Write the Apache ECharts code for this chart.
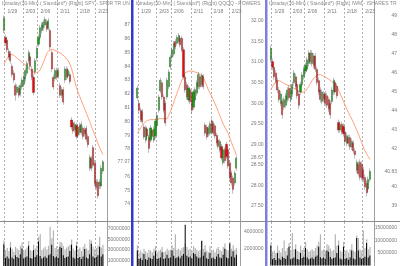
<!DOCTYPE html>
<html><head><meta charset="utf-8">
<script src="https://cdn.jsdelivr.net/npm/echarts@6/dist/echarts.min.js"></script>
<style>html,body{margin:0;padding:0;background:#fff}#c{width:400px;height:266px}</style>
</head><body><div id="c"></div>
<script>
// ---- x-axis date labels (category index where each day-line sits) ----
const dateLabels = ['1/29','2/03','2/06','2/11','2/18','2/23'];
const dateIdx = [1,12,21,33,45,56];

const titleSPY = 'Intraday(30-Min) ( Standard*) (Right) SPY - SPDR TR UNIT';
const titleQQQQ = 'Intraday(30-Min) ( Standard*) (Right) QQQQ - POWERSHARES';
const titleIWM = 'Intraday(30-Min) ( Standard*) (Right) IWM - ISHARES TR';

// ---- candles: [open, close, low, high] ----
const spyOHLC = [
[86.6,87.5,86.4,87.7],[86.1,85.7,85.5,86.3],[85.9,85.2,85.0,86.1],[85.1,84.7,84.5,85.3],[84.9,84.4,84.2,85.1],
[84.0,83.4,83.2,84.2],[83.5,83.0,82.8,83.7],[82.6,81.9,81.5,82.8],[82.1,82.5,81.9,82.7],[82.4,81.9,81.7,82.6],
[82.0,82.6,81.8,82.8],[82.5,83.0,82.3,83.2],[82.7,83.2,82.5,83.4],[83.1,83.7,82.9,83.9],[83.5,84.2,83.3,84.4],
[84.4,85.0,84.2,85.2],[84.7,84.0,83.8,84.9],[83.8,83.2,83.0,84.0],[83.2,82.1,81.9,83.4],[83.6,84.4,83.4,84.6],
[84.6,85.3,84.4,85.5],[85.6,86.1,85.4,86.3],[86.1,86.8,85.9,87.0],[86.6,87.0,86.4,87.2],[86.8,87.2,86.6,87.4],
[87.0,87.4,86.8,87.6],[87.2,86.7,86.5,87.4],[86.8,87.3,86.6,87.5],[86.6,85.4,85.2,86.8],[85.0,83.8,83.6,85.2],
[83.2,82.5,82.3,83.4],[83.1,83.7,82.9,83.9],[83.7,83.2,83.0,83.9],[83.3,83.7,83.1,83.9],[82.6,81.9,81.7,82.8],
[81.9,82.3,81.7,82.5],[82.3,81.4,81.2,82.5],[83.0,83.8,82.8,84.0],[83.8,83.2,83.0,84.0],[83.3,83.7,83.1,83.9],
[83.4,82.9,82.7,83.6],[80.1,79.6,79.4,80.3],[79.9,79.3,79.1,80.1],[79.4,79.8,79.2,80.0],[79.7,78.9,78.7,79.9],
[79.0,79.6,78.8,79.8],[79.7,79.2,79.0,79.9],[79.2,79.8,79.0,80.0],[79.5,78.9,78.7,79.7],[79.4,79.1,78.9,79.6],
[79.5,78.7,78.5,79.7],[78.9,78.3,78.1,79.1],[76.6,77.4,76.4,77.6],[77.3,76.6,76.4,77.5],[78.1,76.8,76.6,78.3],
[77.0,75.5,75.3,77.2],[75.6,75.2,75.0,75.8],[75.6,74.6,74.4,75.8],[75.3,75.6,75.1,75.8],[75.3,76.6,75.1,76.8],
[76.4,77.07,76.2,77.2]
];
const qqqqOHLC = [
[30.13,30.37,30.07,30.43],[30.0,29.83,29.77,30.06],[29.83,29.6,29.54,29.89],[29.8,29.55,29.49,29.86],[29.42,29.18,29.12,29.48],
[29.1,29.4,29.04,29.46],[29.37,29.2,29.14,29.43],[29.18,28.9,28.79,29.24],[29.1,29.4,29.04,29.46],[29.35,29.19,29.13,29.41],
[29.1,29.37,29.04,29.43],[29.2,29.57,29.14,29.63],[29.45,29.7,29.39,29.76],[29.83,30.15,29.77,30.21],[30.3,30.56,30.24,30.62],
[30.5,30.15,30.09,30.56],[30.15,29.83,29.77,30.21],[30.0,29.52,29.45,30.06],[30.15,30.56,30.09,30.62],[30.4,30.76,30.34,30.82],
[30.88,31.12,30.82,31.18],[31.12,31.3,31.06,31.36],[31.2,31.46,31.14,31.52],[31.5,31.37,31.31,31.56],[31.46,31.6,31.4,31.66],
[31.5,31.65,31.44,31.71],[31.58,31.42,31.36,31.64],[31.58,31.3,31.24,31.64],[31.3,30.64,30.58,31.36],[30.64,30.32,30.26,30.7],
[30.45,30.15,30.09,30.51],[30.08,30.37,30.02,30.43],[30.33,30.04,29.98,30.39],[30.25,29.83,29.75,30.31],[29.9,30.28,29.84,30.34],
[30.08,30.33,30.02,30.39],[30.24,30.5,30.18,30.56],[30.4,30.7,30.34,30.76],[30.65,30.4,30.34,30.71],[30.45,30.68,30.39,30.74],
[30.65,30.4,30.34,30.71],[29.47,29.27,29.21,29.53],[29.42,29.18,29.12,29.48],[29.25,29.4,29.19,29.46],[29.27,29.5,29.21,29.56],
[29.57,29.3,29.24,29.63],[29.5,29.27,29.21,29.56],[29.45,29.2,29.14,29.51],[29.22,29.03,28.97,29.28],[29.1,28.95,28.89,29.16],
[28.86,29.07,28.8,29.13],[28.95,28.67,28.61,29.01],[28.55,28.87,28.49,28.93],[28.87,28.6,28.54,28.93],[29.0,28.7,28.64,29.06],
[28.87,28.47,28.41,28.93],[28.55,28.2,28.14,28.61],[28.3,28.06,28.0,28.36],[28.18,27.9,27.8,28.24],[28.06,28.3,28.0,28.36],
[28.42,28.67,28.36,28.73]
];
const iwmOHLC = [
[46.7,47.3,46.55,47.45],[46.6,46.3,46.15,46.75],[46.3,45.8,45.65,46.45],[46.0,45.6,45.45,46.15],[45.6,45.1,44.95,45.75],
[45.1,44.6,44.45,45.25],[44.4,44.9,44.25,45.05],[44.5,43.8,43.6,44.65],[44.2,44.6,44.05,44.75],[44.3,44.8,44.15,44.95],
[44.6,45.1,44.45,45.25],[45.2,44.7,44.55,45.35],[44.6,45.1,44.45,45.25],[44.9,45.4,44.75,45.55],[45.5,46.0,45.35,46.15],
[45.8,45.3,45.15,45.95],[45.4,44.8,44.65,45.55],[44.9,44.3,44.1,45.05],[45.0,45.4,44.85,45.55],[45.4,45.9,45.25,46.05],
[45.8,46.2,45.65,46.35],[46.1,46.4,45.95,46.55],[46.2,46.7,46.05,46.85],[46.5,47.05,46.35,47.2],[47.05,46.6,46.45,47.2],
[46.5,47.05,46.35,47.2],[46.9,46.4,46.25,47.05],[46.9,46.2,46.05,47.05],[46.2,45.5,45.35,46.35],[45.6,45.0,44.85,45.75],
[45.1,44.6,44.45,45.25],[44.5,45.0,44.35,45.15],[44.9,44.6,44.45,45.05],[44.9,44.4,44.25,45.05],[44.8,44.3,44.15,44.95],
[44.6,44.1,43.95,44.75],[44.4,43.8,43.6,44.55],[44.5,45.1,44.35,45.25],[45.0,45.6,44.85,45.75],[45.5,45.0,44.85,45.65],
[45.3,44.8,44.65,45.45],[43.4,43.0,42.85,43.55],[43.0,43.3,42.85,43.45],[43.3,42.9,42.75,43.45],[43.2,42.8,42.65,43.35],
[42.9,42.4,42.25,43.05],[42.3,42.7,42.15,42.85],[42.6,42.3,42.15,42.75],[42.6,42.1,41.95,42.75],[42.1,42.4,41.95,42.55],
[42.3,41.9,41.75,42.45],[41.9,41.7,41.5,42.05],[40.9,41.3,40.75,41.45],[41.2,40.7,40.55,41.35],[41.3,40.5,40.35,41.45],
[41.2,40.5,40.35,41.35],[40.9,40.4,40.25,41.05],[40.5,40.0,39.85,40.65],[40.2,39.7,39.5,40.35],[39.9,40.4,39.75,40.55],
[40.4,40.83,40.25,40.98]
];

// ---- moving average lines ----
const spyMA = [84.15,84.35,84.55,84.75,84.9,84.9,84.8,84.7,84.6,84.5,84.4,84.3,84.2,84.1,84.0,83.85,83.75,83.65,83.55,83.5,
83.5,83.6,83.75,84.0,84.3,84.6,84.9,85.1,85.2,85.25,85.2,85.15,85.1,85.05,85.0,84.9,84.8,84.7,84.55,84.4,
84.15,83.85,83.4,82.9,82.45,82.1,81.8,81.5,81.2,80.9,80.6,80.3,80.0,79.65,79.35,79.05,78.75,78.4,78.1,77.85,77.6];
const qqqqMA = [29.27,29.33,29.4,29.46,29.51,29.55,29.58,29.59,29.6,29.6,29.6,29.6,29.61,29.62,29.63,29.63,29.62,29.6,29.62,29.7,
29.8,29.9,30.02,30.13,30.24,30.35,30.46,30.56,30.66,30.74,30.77,30.78,30.78,30.78,30.77,30.76,30.75,30.73,30.7,30.67,
30.62,30.53,30.43,30.33,30.25,30.17,30.08,30.0,29.9,29.8,29.7,29.6,29.5,29.42,29.35,29.27,29.16,29.05,28.94,28.85,28.74];
const iwmMA = [45.14,45.28,45.42,45.55,45.62,45.6,45.55,45.5,45.45,45.4,45.37,45.33,45.3,45.25,45.2,45.14,45.08,45.03,45.0,44.97,
44.97,45.05,45.18,45.3,45.45,45.6,45.73,45.83,45.9,45.93,45.92,45.88,45.84,45.8,45.74,45.68,45.62,45.56,45.48,45.4,
45.3,45.1,44.9,44.72,44.5,44.3,44.1,43.92,43.75,43.58,43.4,43.2,43.0,42.8,42.57,42.35,42.1,41.9,41.75,41.6,41.45];

// ---- volumes (millions) ----
const spyVolBlack = [41,15,18,14,35,16,13,20,17,15,22,33,14,16,18,38,15,14,30,17,20,46,19,14,16,18,15,20,22,40,19,16,18,15,36,34,20,15,17,18,28,40,16,14,38,15,17,13,18,32,16,14,22,42,18,15,17,20,36,18,22];
const spyVolGray = [48,30,34,28,45,32,27,36,33,30,38,44,28,31,35,47,30,28,40,33,38,55,60,30,33,36,31,38,74,52,67,34,37,32,45,44,38,31,35,37,40,50,33,29,46,32,35,28,36,42,33,30,50,48,36,32,34,38,55,35,40];
const qqqqVolBlack = [1.8,0.8,0.9,0.7,1.4,0.8,0.7,1.0,0.9,0.8,1.2,1.7,0.8,0.9,1.0,1.6,0.8,0.9,1.3,0.9,1.0,1.8,1.2,0.9,1.0,1.1,0.9,1.2,1.4,4.8,1.2,1.0,1.1,0.9,1.5,1.4,1.1,0.9,1.0,2.9,1.2,1.6,0.9,0.8,1.5,0.9,1.0,0.8,1.1,1.4,1.0,0.9,1.3,2.0,1.0,0.9,2.6,1.1,1.7,1.0,1.3];
const qqqqVolGray = [2.4,1.6,1.8,1.5,2.0,1.7,1.5,1.9,1.8,1.6,2.0,2.3,1.6,1.8,1.9,2.2,1.6,1.7,2.0,1.8,1.9,2.4,2.1,3.7,1.9,2.0,1.8,2.1,2.2,2.6,2.2,1.9,2.0,1.8,2.3,2.1,1.9,1.7,1.9,3.0,2.0,2.4,1.8,1.6,2.3,1.8,1.9,1.6,2.0,2.2,1.9,1.7,2.2,2.6,1.9,1.8,2.8,2.0,2.4,1.9,2.1];
const iwmVolBlack = [8,2.5,3,2.2,5,2.8,2.3,3.5,3,2.6,4,7.5,2.5,2.8,3.2,6.5,2.6,2.4,5,3,3.5,7,3.2,2.5,2.8,3.2,2.6,3.5,4,7.5,3.3,2.8,3.2,2.6,6,5.5,3.4,2.6,3,3.2,5,8,2.8,2.4,7.5,2.6,3,2.3,3.2,6,2.8,2.5,11,6,3.2,2.6,3,3.5,9,3.2,4];
const iwmVolGray = [9,5.5,6,5,8,6,5.2,7,10,5.8,7,9,6,13,6.5,8.5,5.8,5.5,8,6.2,7,9.5,6.5,5.5,6,6.5,5.8,7,8,9.5,12.5,6,6.5,5.8,8.5,8,6.8,5.8,6.2,12.5,8,10,6,5.5,9.5,5.8,6.2,5.2,6.5,8.5,6,5.5,12,11,6.5,5.8,14,7,10.5,6.5,7.5];

// ---- y tick labels ----
const spyTicks = [74,75,76,78,79,80,81,82,83,84,85,86,87];
const qqqqTicks = [27.5,28,28.5,29,29.5,30,30.5,31,31.5,32];
const iwmTicks = [39,40,42,43,44,45,46,47,48,49];
const spyVolTicks = [10,30,50,70];
const qqqqVolTicks = [2,4];
const iwmVolTicks = [5,10,15];

const N_CAT = 63;
const cats = Array.from({length: N_CAT}, (_, i) => String(i));
const FONT = 'Liberation Sans, Arial, sans-serif';
const LBL = '#7a7a7a';

const panels = [
  {off:0, title:titleSPY, ohlc:spyOHLC, ma:spyMA, vb:spyVolBlack, vg:spyVolGray, ticks:spyTicks, vt:spyVolTicks,
   min:72.765, max:88.816, dec:false, vmax:82.7, vh:45.5},
  {off:133.5, title:titleQQQQ, ohlc:qqqqOHLC, ma:qqqqMA, vb:qqqqVolBlack, vg:qqqqVolGray, ticks:qqqqTicks, vt:qqqqVolTicks,
   min:27.135, max:32.511, dec:true, vmax:5.11, vh:46},
  {off:267, title:titleIWM, ohlc:iwmOHLC, ma:iwmMA, vb:iwmVolBlack, vg:iwmVolGray, ticks:iwmTicks, vt:iwmVolTicks,
   min:38.211, max:49.842, dec:false, vmax:17.4, vh:43.5}
];

const grids = [], xAxes = [], yAxes = [], series = [], titles = [];
const isDate = (i) => dateIdx.indexOf(i) >= 0;
panels.forEach((p, k) => {
  const gP = k * 2, gV = k * 2 + 1;
  grids.push({left: p.off + 3, width: 104, top: 0, height: 221});
  grids.push({left: p.off + 3, width: 104, top: 222, height: p.vh});
  titles.push({text: p.title, left: p.off + 2, top: 1, padding: 0,
    textStyle: {fontSize: 5, color: '#8a8a8a', fontWeight: 'normal', fontFamily: FONT, width: 129, overflow: 'truncate', ellipsis: ''}});
  const split = {show: true, interval: (i) => isDate(i), lineStyle: {type: [2, 2], color: '#b0b0b0', width: 1}};
  xAxes.push({gridIndex: gP, type: 'category', data: cats, position: 'top', boundaryGap: true,
    axisLine: {show: false}, axisTick: {show: false}, splitLine: split,
    axisLabel: {inside: true, interval: (i) => isDate(i), formatter: (v, i) => dateLabels[dateIdx.indexOf(i)] || '',
      align: 'left', margin: 9, fontSize: 5, color: LBL, fontFamily: FONT, padding: [0, 0, 0, 2]}});
  xAxes.push({gridIndex: gV, type: 'category', data: cats, boundaryGap: true,
    axisLine: {show: false}, axisTick: {show: false}, axisLabel: {show: false}, splitLine: split});
  const last = p.ohlc[p.ohlc.length - 1][1];
  const fmt = (v) => p.dec ? Number(v).toFixed(2) : (Number.isInteger(v) ? String(v) : Number(v).toFixed(2));
  yAxes.push({gridIndex: gP, type: 'value', position: 'right', min: p.min, max: p.max,
    axisLine: {show: true, lineStyle: {color: '#a0a0a0', width: 1}}, axisTick: {show: false}, splitLine: {show: false},
    axisLabel: {customValues: p.ticks.concat([last]), formatter: fmt, fontSize: 5, color: LBL, fontFamily: FONT, align: 'right', margin: 23}});
  yAxes.push({gridIndex: gV, type: 'value', position: 'right', min: 0, max: p.vmax,
    axisLine: {show: true, lineStyle: {color: '#a0a0a0', width: 1}}, axisTick: {show: false}, splitLine: {show: false},
    axisLabel: {customValues: p.vt, formatter: (v) => String(Math.round(v * 1e6)), fontSize: 5, color: LBL, fontFamily: FONT, align: 'right', margin: 23}});
  series.push({type: 'candlestick', xAxisIndex: gP, yAxisIndex: gP, data: p.ohlc, barWidth: 1.6,
    itemStyle: {color: '#00b000', color0: '#ff0000', borderColor: '#3a3a3a', borderColor0: '#3a3a3a', borderWidth: 0.3,
      shadowBlur: 1.5, shadowColor: 'rgba(0,0,0,0.18)'}});
  series.push({type: 'line', xAxisIndex: gP, yAxisIndex: gP, data: p.ma, symbol: 'none',
    lineStyle: {color: '#ff8a5c', width: 0.8}, z: 1});
  series.push({type: 'bar', xAxisIndex: gV, yAxisIndex: gV, data: p.vg, barWidth: 1.2, itemStyle: {color: '#b4b4b4'}});
  series.push({type: 'bar', xAxisIndex: gV, yAxisIndex: gV, data: p.vb, barWidth: 1.0, barGap: '-100%', itemStyle: {color: '#000'}});
});

const chart = echarts.init(document.getElementById('c'), null, {renderer: 'canvas'});
chart.setOption({
  animation: false,
  backgroundColor: '#fff',
  title: titles,
  grid: grids,
  xAxis: xAxes,
  yAxis: yAxes,
  series: series,
  graphic: [
    {type: 'line', shape: {x1: 0, y1: 221.5, x2: 400, y2: 221.5}, style: {stroke: '#8c8c8c', lineWidth: 1}, z: 100},
    {type: 'rect', shape: {x: 131, y: 0, width: 2.5, height: 266}, style: {fill: '#3838c8'}, z: 100},
    {type: 'rect', shape: {x: 265, y: 0, width: 2.5, height: 266}, style: {fill: '#8080dc'}, z: 100}
  ]
});
</script></body></html>
